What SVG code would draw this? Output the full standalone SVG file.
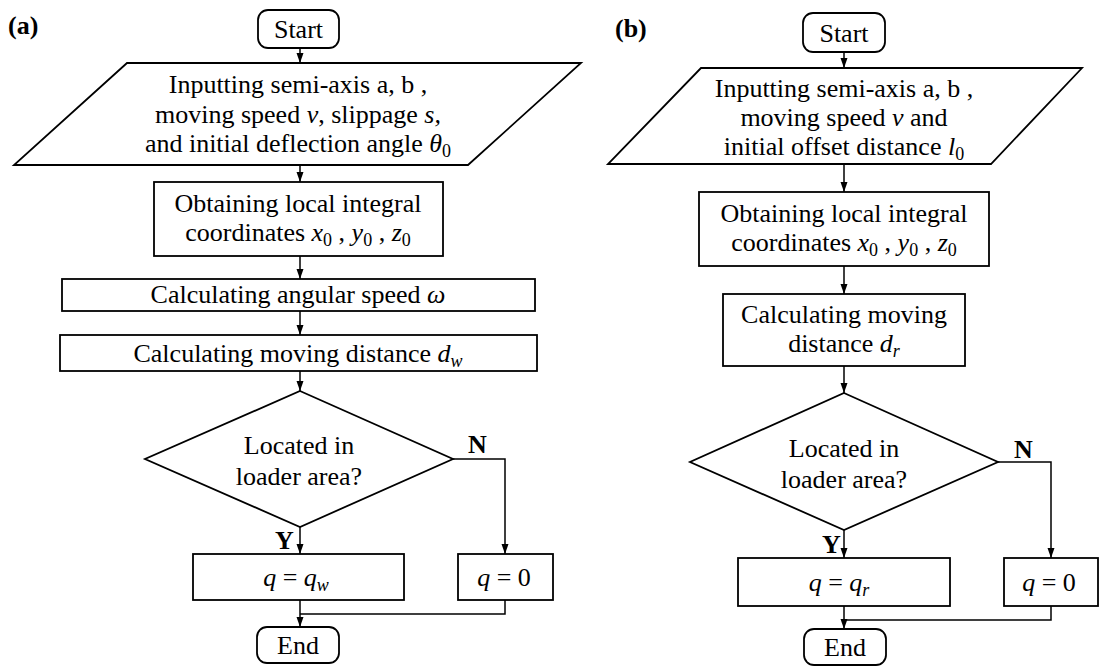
<svg xmlns="http://www.w3.org/2000/svg" width="1100" height="667" viewBox="0 0 1100 667">
<style>
.s{fill:#fff;stroke:#000;stroke-width:1.8}
.c{fill:none;stroke:#000;stroke-width:1.5}
text{font-family:"Liberation Serif","Times New Roman",serif;font-size:26px;fill:#000;text-anchor:middle}
.b{font-weight:bold}
.l{text-anchor:start}
.i{font-style:italic}
.sub{font-size:18px}
</style>
<defs>
<marker id="ah" markerUnits="userSpaceOnUse" markerWidth="10" markerHeight="8" refX="10" refY="4" orient="auto">
<path d="M0,0.5 L10,4 L0,7.5 z" fill="#000"/>
</marker>
</defs>
<rect width="1100" height="667" fill="#fff"/>

<text class="b l" x="8" y="34">(a)</text>
<text class="b l" x="615" y="37">(b)</text>

<g id="connectors">
<path class="c" d="M300,48 V63" marker-end="url(#ah)"/>
<path class="c" d="M300,165 V182" marker-end="url(#ah)"/>
<path class="c" d="M300,256 V279" marker-end="url(#ah)"/>
<path class="c" d="M300,311 V335" marker-end="url(#ah)"/>
<path class="c" d="M300,371 V391" marker-end="url(#ah)"/>
<path class="c" d="M300,527 V554" marker-end="url(#ah)"/>
<path class="c" d="M453,459 H505 V554" marker-end="url(#ah)"/>
<path class="c" d="M300,600 V627" marker-end="url(#ah)"/>
<path class="c" d="M505,600 V614 H300"/>

<path class="c" d="M844,52 V68" marker-end="url(#ah)"/>
<path class="c" d="M844,164 V192" marker-end="url(#ah)"/>
<path class="c" d="M844,266 V294" marker-end="url(#ah)"/>
<path class="c" d="M844,366 V393" marker-end="url(#ah)"/>
<path class="c" d="M844,530 V558" marker-end="url(#ah)"/>
<path class="c" d="M998,462 H1051 V558" marker-end="url(#ah)"/>
<path class="c" d="M844,606 V629" marker-end="url(#ah)"/>
<path class="c" d="M1051,606 V620 H844"/>
</g>

<g id="a-start">
<rect class="s" x="258" y="10" width="81" height="38" rx="10"/>
<text x="298.5" y="38">Start</text>
</g>
<g id="a-input">
<polygon class="s" points="127,63 581,63 468,165 14,165"/>
<text x="298" y="93">Inputting semi-axis a, b ,</text>
<text x="298" y="123">moving speed <tspan class="i">v</tspan>, slippage <tspan class="i">s,</tspan></text>
<text x="298" y="152">and initial deflection angle <tspan class="i">θ</tspan><tspan class="sub" dy="5">0</tspan></text>
</g>
<g id="a-coords">
<rect class="s" x="154" y="182" width="289" height="74"/>
<text x="298" y="212">Obtaining local integral</text>
<text x="298" y="241">coordinates <tspan class="i">x</tspan><tspan class="sub" dy="5">0</tspan><tspan dy="-5"> , </tspan><tspan class="i">y</tspan><tspan class="sub" dy="5">0</tspan><tspan dy="-5"> , </tspan><tspan class="i">z</tspan><tspan class="sub" dy="5">0</tspan></text>
</g>
<g id="a-angular">
<rect class="s" x="62" y="279" width="473" height="32"/>
<text x="298" y="303">Calculating angular speed <tspan class="i">ω</tspan></text>
</g>
<g id="a-distance">
<rect class="s" x="60" y="335" width="477" height="36"/>
<text x="298" y="362">Calculating moving distance <tspan class="i">d</tspan><tspan class="sub i" dy="5">w</tspan></text>
</g>
<g id="a-decision">
<polygon class="s" points="300,391 453,459 300,527 145,459"/>
<text x="299" y="454">Located in</text>
<text x="299" y="485">loader area?</text>
<text class="b l" x="468" y="453">N</text>
<text class="b l" x="275" y="549">Y</text>
</g>
<g id="a-qw">
<rect class="s" x="193" y="554" width="211" height="46"/>
<text x="296" y="586"><tspan class="i">q</tspan> = <tspan class="i">q</tspan><tspan class="sub i" dy="5">w</tspan></text>
</g>
<g id="a-q0">
<rect class="s" x="458" y="554" width="95" height="46"/>
<text x="504" y="586"><tspan class="i">q</tspan> = 0</text>
</g>
<g id="a-end">
<rect class="s" x="257" y="627" width="82" height="36" rx="10"/>
<text x="298" y="654">End</text>
</g>

<g id="b-start">
<rect class="s" x="803" y="13" width="82" height="39" rx="10"/>
<text x="844" y="42">Start</text>
</g>
<g id="b-input">
<polygon class="s" points="701,68 1082,68 991,164 608,164"/>
<text x="844" y="97">Inputting semi-axis a, b ,</text>
<text x="844" y="126">moving speed <tspan class="i">v</tspan> and</text>
<text x="844" y="155">initial offset distance <tspan class="i">l</tspan><tspan class="sub" dy="5">0</tspan></text>
</g>
<g id="b-coords">
<rect class="s" x="699" y="192" width="290" height="74"/>
<text x="844" y="222">Obtaining local integral</text>
<text x="844" y="251">coordinates <tspan class="i">x</tspan><tspan class="sub" dy="5">0</tspan><tspan dy="-5"> , </tspan><tspan class="i">y</tspan><tspan class="sub" dy="5">0</tspan><tspan dy="-5"> , </tspan><tspan class="i">z</tspan><tspan class="sub" dy="5">0</tspan></text>
</g>
<g id="b-distance">
<rect class="s" x="723" y="294" width="242" height="72"/>
<text x="844" y="323">Calculating moving</text>
<text x="844" y="352">distance <tspan class="i">d</tspan><tspan class="sub i" dy="5">r</tspan></text>
</g>
<g id="b-decision">
<polygon class="s" points="844,393 998,462 844,530 690,462"/>
<text x="844" y="457">Located in</text>
<text x="844" y="488">loader area?</text>
<text class="b l" x="1014" y="458">N</text>
<text class="b l" x="822" y="553">Y</text>
</g>
<g id="b-qr">
<rect class="s" x="738" y="558" width="212" height="48"/>
<text x="839" y="591"><tspan class="i">q</tspan> = <tspan class="i">q</tspan><tspan class="sub i" dy="5">r</tspan></text>
</g>
<g id="b-q0">
<rect class="s" x="1004" y="558" width="94" height="48"/>
<text x="1049" y="591"><tspan class="i">q</tspan> = 0</text>
</g>
<g id="b-end">
<rect class="s" x="804" y="629" width="82" height="36" rx="10"/>
<text x="845" y="656">End</text>
</g>
</svg>
